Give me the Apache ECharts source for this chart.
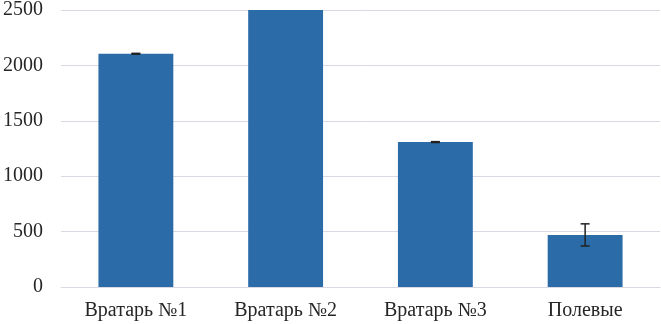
<!DOCTYPE html>
<html><head><meta charset="utf-8">
<script src="https://cdn.jsdelivr.net/npm/echarts@6/dist/echarts.min.js"></script>
<style>html,body{margin:0;padding:0;background:#fff}#c{width:661px;height:324px}</style>
</head><body><div id="c"></div>
<script>
const categories = ['Вратарь №1', 'Вратарь №2', 'Вратарь №3', 'Полевые'];
const values = [2105, 2650, 1308, 470];
const errors = [4, 4, 4, 100];
const yTicks = [0, 500, 1000, 1500, 2000, 2500];

const FONT = 'Liberation Serif';
const chart = echarts.init(document.getElementById('c'));
const errData = categories.map((c, i) => [i, values[i] - errors[i], values[i] + errors[i]]);
chart.setOption({
  animation: false,
  textStyle: {fontFamily: FONT},
  grid: {left: 60, right: 1, top: 7, bottom: 37, containLabel: false},
  xAxis: {
    type: 'category', data: categories,
    axisLine: {show: true, lineStyle: {color: '#D9D9E3', width: 1}},
    axisTick: {show: false},
    axisLabel: {color: '#262626', fontFamily: FONT, fontSize: 20, margin: 14}
  },
  yAxis: {
    type: 'value', min: 0, max: yTicks[yTicks.length - 1], interval: 500,
    axisLine: {show: false}, axisTick: {show: false},
    splitLine: {lineStyle: {color: '#D9D9E6', width: 1}},
    axisLabel: {color: '#262626', fontFamily: FONT, fontSize: 20, margin: 18,
      formatter: v => String(v)}
  },
  series: [
    {type: 'bar', data: values, barWidth: '50%', itemStyle: {color: '#2B6BA8'}, clip: true},
    {
      type: 'custom', data: errData, z: 10, clip: true,
      renderItem: function (params, api) {
        const x = api.value(0);
        const lo = api.coord([x, api.value(1)]);
        const hi = api.coord([x, api.value(2)]);
        const hw = 4.5;
        const style = {stroke: '#222', lineWidth: 1.5};
        return {type: 'group', children: [
          {type: 'line', shape: {x1: lo[0], y1: lo[1], x2: hi[0], y2: hi[1]}, style},
          {type: 'line', shape: {x1: lo[0] - hw, y1: lo[1], x2: lo[0] + hw, y2: lo[1]}, style},
          {type: 'line', shape: {x1: hi[0] - hw, y1: hi[1], x2: hi[0] + hw, y2: hi[1]}, style}
        ]};
      },
      encode: {x: 0, y: [1, 2]}
    }
  ]
});
</script></body></html>
